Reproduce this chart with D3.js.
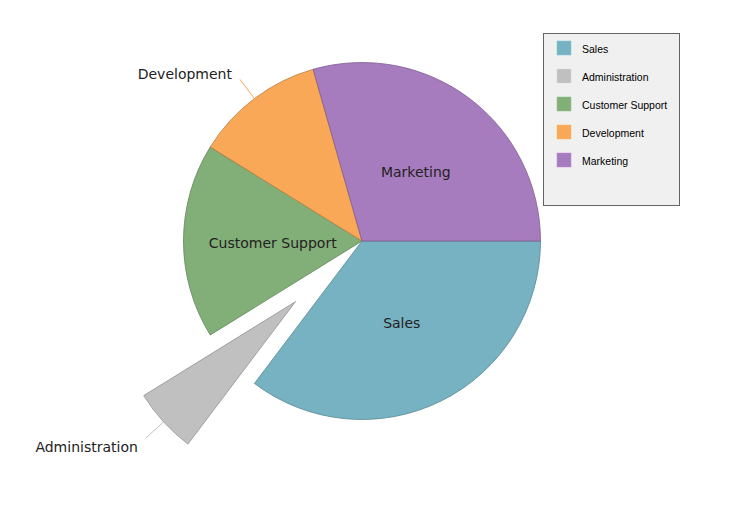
<!DOCTYPE html>
<html>
<head>
<meta charset="utf-8">
<script src="https://cdn.jsdelivr.net/npm/d3@7"></script>
<style>
  body { margin: 0; background: #fff; }
</style>
</head>
<body>
<svg id="chart" width="730" height="514"></svg>
<script>
// data
const categories = ['Sales', 'Administration', 'Customer Support', 'Development', 'Marketing']
const values = [60, 10, 30, 20, 50]
const colors = ['#77b2c3', '#c0c0c0', '#82ae78', '#f9a857', '#a77cbe']
const explodedCategories = ['Administration']

const cx = 362
const cy = 241
const radius = 178.5
const explodeOffset = 90
const outsideThreshold = 15 // percent below which the label goes outside

const data = categories.map((c, i) => ({ name: c, value: values[i], color: colors[i] }))
const total = d3.sum(values)

const svg = d3.select('#chart')

// pie layout, start at 3 o'clock going clockwise
const pie = d3
  .pie()
  .sort(null)
  .value((d) => d.value)
  .startAngle(Math.PI / 2)
  .endAngle(Math.PI / 2 + 2 * Math.PI)

const arcs = pie(data)

const arc = d3.arc().innerRadius(0).outerRadius(radius)
const arcAt = (r) => d3.arc().innerRadius(r).outerRadius(r)

// offset for exploded slices
function offset(d) {
  if (!explodedCategories.includes(d.data.name)) return [0, 0]
  const a = (d.startAngle + d.endAngle) / 2 - Math.PI / 2
  return [Math.cos(a) * explodeOffset, Math.sin(a) * explodeOffset]
}

const g = svg.append('g').attr('transform', `translate(${cx},${cy})`)

const slices = g
  .selectAll('g.slice')
  .data(arcs)
  .join('g')
  .attr('class', 'slice')
  .attr('transform', (d) => 'translate(' + offset(d).join(',') + ')')

slices
  .append('path')
  .attr('d', arc)
  .attr('fill', (d) => d.data.color)
  .attr('stroke', (d) => d3.color(d.data.color).darker(0.8))
  .attr('stroke-width', 0.8)

// labels
slices.each(function (d) {
  const sel = d3.select(this)
  const pct = (d.value / total) * 100
  if (pct >= outsideThreshold) {
    const [x, y] = arc.centroid(d)
    sel
      .append('text')
      .attr('x', x)
      .attr('y', y + 2)
      .attr('text-anchor', 'middle')
      .attr('dominant-baseline', 'central')
      .attr('font-family', 'DejaVu Sans, Verdana, sans-serif')
      .attr('font-size', 14)
      .attr('fill', '#222')
      .text(d.data.name)
  } else {
    const p0 = arcAt(radius - 4).centroid(d)
    const p1 = arcAt(radius + 24).centroid(d)
    sel
      .append('line')
      .attr('x1', p0[0])
      .attr('y1', p0[1])
      .attr('x2', p1[0])
      .attr('y2', p1[1])
      .attr('stroke', d.data.color)
      .attr('stroke-width', 1)
    const mid = (d.startAngle + d.endAngle) / 2
    const right = Math.sin(mid) > 0
    sel
      .append('text')
      .attr('x', p1[0] + (right ? 8 : -8))
      .attr('y', p1[1] + (Math.cos(mid) > 0 ? -5 : 9))
      .attr('text-anchor', right ? 'start' : 'end')
      .attr('dominant-baseline', 'central')
      .attr('font-family', 'DejaVu Sans, Verdana, sans-serif')
      .attr('font-size', 14)
      .attr('fill', '#222')
      .text(d.data.name)
  }
})

// legend
const legendG = svg.append('g').attr('transform', 'translate(543.5,33.5)')

legendG
  .append('rect')
  .attr('width', 136)
  .attr('height', 172)
  .attr('fill', '#f0f0f0')
  .attr('stroke', '#646464')
  .attr('stroke-width', 1)

const items = legendG
  .selectAll('g.item')
  .data(data)
  .join('g')
  .attr('class', 'item')
  .attr('transform', (d, i) => `translate(0,${i * 28})`)

items
  .append('rect')
  .attr('x', 13.5)
  .attr('y', 7.5)
  .attr('width', 14)
  .attr('height', 14)
  .attr('fill', (d) => d.color)
  .attr('stroke', (d) => d3.color(d.color).brighter(0.3))
  .attr('stroke-width', 0.5)

items
  .append('text')
  .attr('x', 38.5)
  .attr('y', 15)
  .attr('dominant-baseline', 'central')
  .attr('font-family', 'Liberation Sans, Arial, sans-serif')
  .attr('font-size', 10.5)
  .attr('fill', '#000')
  .text((d) => d.name)
</script>
</body>
</html>
